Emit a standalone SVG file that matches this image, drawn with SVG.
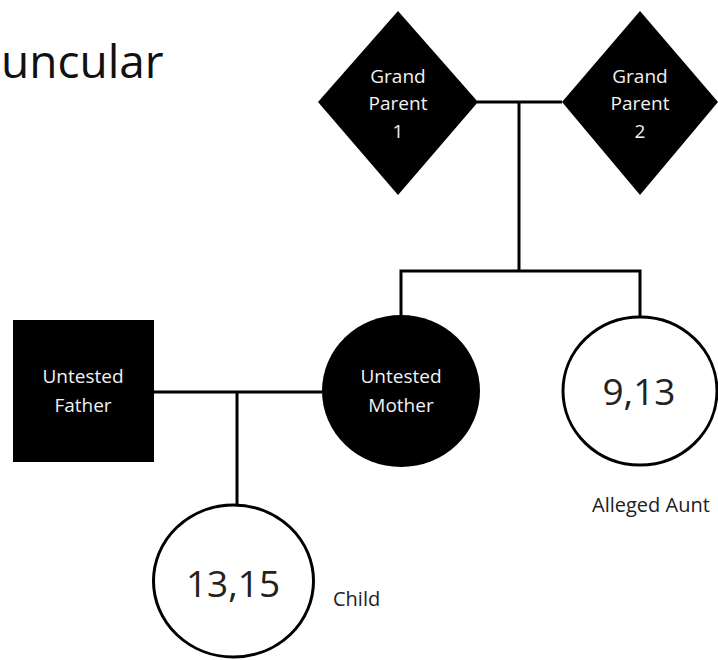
<svg xmlns="http://www.w3.org/2000/svg" width="718" height="660" viewBox="0 0 718 660">
<style>
.filled{fill:#000;}
.open{fill:#fff;stroke:#000;stroke-width:3;}
.wl{font-family:"Open Sans","Noto Sans",sans-serif;font-size:19px;fill:#f2f2f2;text-anchor:middle;}
.big{font-family:"Open Sans","Noto Sans",sans-serif;font-size:37px;fill:#222;text-anchor:middle;}
.lbl{font-family:"Open Sans","Noto Sans",sans-serif;font-size:20px;fill:#222;}
.conn{stroke:#000;stroke-width:3;fill:none;}
</style>
<rect width="718" height="660" fill="#fff"/>
<text x="1" y="78" font-family="'Open Sans','Noto Sans',sans-serif" font-size="46" fill="#111">uncular</text>
<g id="connectors">
<path class="conn" d="M477 102 H562"/>
<path class="conn" d="M519 102 V271"/>
<path class="conn" d="M401 317 V271 H640 V317"/>
<path class="conn" d="M154 392 H322"/>
<path class="conn" d="M237 392 V504"/>
</g>
<g id="gp1">
<polygon class="filled" points="398,11 478,102 398,195 318,102"/>
<text class="wl" x="398" y="83">Grand</text>
<text class="wl" x="398" y="110">Parent</text>
<text class="wl" x="398" y="138">1</text>
</g>
<g id="gp2">
<polygon class="filled" points="640,11 718,102 640,195 562,102"/>
<text class="wl" x="640" y="83">Grand</text>
<text class="wl" x="640" y="110">Parent</text>
<text class="wl" x="640" y="138">2</text>
</g>
<g id="father">
<rect class="filled" x="13" y="320" width="141" height="142"/>
<text class="wl" x="83" y="383">Untested</text>
<text class="wl" x="83" y="412">Father</text>
</g>
<g id="mother">
<ellipse class="filled" cx="401" cy="391" rx="79" ry="76"/>
<text class="wl" x="401" y="383">Untested</text>
<text class="wl" x="401" y="412">Mother</text>
</g>
<g id="aunt">
<ellipse class="open" cx="640" cy="391" rx="77" ry="74"/>
<text class="big" x="639" y="405">9,13</text>
<text class="lbl" x="592" y="512">Alleged Aunt</text>
</g>
<g id="child">
<ellipse class="open" cx="233.5" cy="581" rx="80" ry="76"/>
<text class="big" x="233" y="597">13,15</text>
<text class="lbl" x="333" y="606">Child</text>
</g>
</svg>
